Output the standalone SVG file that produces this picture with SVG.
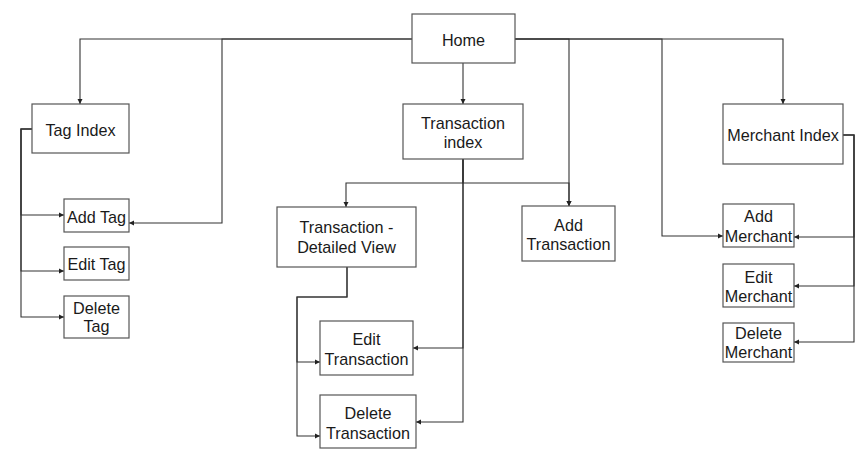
<svg xmlns="http://www.w3.org/2000/svg" width="867" height="460" viewBox="0 0 867 460">
<defs>
<marker id="arr" markerUnits="userSpaceOnUse" markerWidth="6" markerHeight="6" refX="5" refY="3" orient="auto">
<path d="M0,0.5 L5,3 L0,5.5 z" fill="#222"/>
</marker>
<style>
.box{fill:#fff;stroke:#555;stroke-width:1.2}
.t{font-family:"Liberation Sans",Arial,sans-serif;font-size:16.2px;fill:#1a1a1a;text-anchor:middle}
.c path{fill:none;stroke:#333;stroke-width:1.1;marker-end:url(#arr)}
</style>
</defs>
<rect width="867" height="460" fill="#fff"/>
<g id="connectors" class="c">
<path d="M412,39 H80 V104"/>
<path d="M412,39 H222 V223 H129"/>
<path d="M463,63 V104"/>
<path d="M515,39 H569 V206"/>
<path d="M515,39 H662 V236 H723"/>
<path d="M515,39 H783 V104"/>
<path d="M32,129 H21 V215 H64"/>
<path d="M32,129 H21 V271 H64"/>
<path d="M32,129 H21 V317 H64"/>
<path d="M463,159 V183 H346 V207"/>
<path d="M463,159 V183 H569 V206"/>
<path d="M463,159 V348 H413"/>
<path d="M463,159 V422 H416"/>
<path d="M347,267 V297 H297 V362 H320"/>
<path d="M347,267 V297 H297 V436 H320"/>
<path d="M843,135 H854 V237 H794"/>
<path d="M843,135 H854 V286 H794"/>
<path d="M843,135 H854 V342 H794"/>
</g>
<g id="home"><rect class="box" x="412" y="14" width="103" height="49"/><text class="t" x="463.5" y="46">Home</text></g>
<g id="tag-index"><rect class="box" x="32" y="104" width="97" height="49"/><text class="t" x="80.5" y="136">Tag Index</text></g>
<g id="add-tag"><rect class="box" x="64" y="199" width="65" height="33"/><text class="t" x="96.5" y="223">Add Tag</text></g>
<g id="edit-tag"><rect class="box" x="64" y="247" width="65" height="33"/><text class="t" x="96.5" y="270">Edit Tag</text></g>
<g id="delete-tag"><rect class="box" x="64" y="296" width="65" height="42"/><text class="t" x="96.5" y="314">Delete</text><text class="t" x="96.5" y="332">Tag</text></g>
<g id="transaction-index"><rect class="box" x="403" y="104" width="120" height="55"/><text class="t" x="463" y="129">Transaction</text><text class="t" x="463" y="148">index</text></g>
<g id="transaction-detailed"><rect class="box" x="277" y="207" width="139" height="60"/><text class="t" x="346.5" y="233">Transaction -</text><text class="t" x="346.5" y="253">Detailed View</text></g>
<g id="add-transaction"><rect class="box" x="522" y="206" width="93" height="55"/><text class="t" x="568.5" y="231">Add</text><text class="t" x="568.5" y="250">Transaction</text></g>
<g id="edit-transaction"><rect class="box" x="320" y="321" width="93" height="54"/><text class="t" x="366.5" y="345">Edit</text><text class="t" x="366.5" y="365">Transaction</text></g>
<g id="delete-transaction"><rect class="box" x="320" y="395" width="96" height="53"/><text class="t" x="368" y="419">Delete</text><text class="t" x="368" y="439">Transaction</text></g>
<g id="merchant-index"><rect class="box" x="723" y="104" width="120" height="60"/><text class="t" x="783" y="141">Merchant Index</text></g>
<g id="add-merchant"><rect class="box" x="723" y="204" width="71" height="43"/><text class="t" x="758.5" y="222">Add</text><text class="t" x="758.5" y="241.5">Merchant</text></g>
<g id="edit-merchant"><rect class="box" x="723" y="264" width="71" height="43"/><text class="t" x="758.5" y="283">Edit</text><text class="t" x="758.5" y="302">Merchant</text></g>
<g id="delete-merchant"><rect class="box" x="723" y="323" width="71" height="39"/><text class="t" x="758.5" y="339">Delete</text><text class="t" x="758.5" y="358">Merchant</text></g>
</svg>
